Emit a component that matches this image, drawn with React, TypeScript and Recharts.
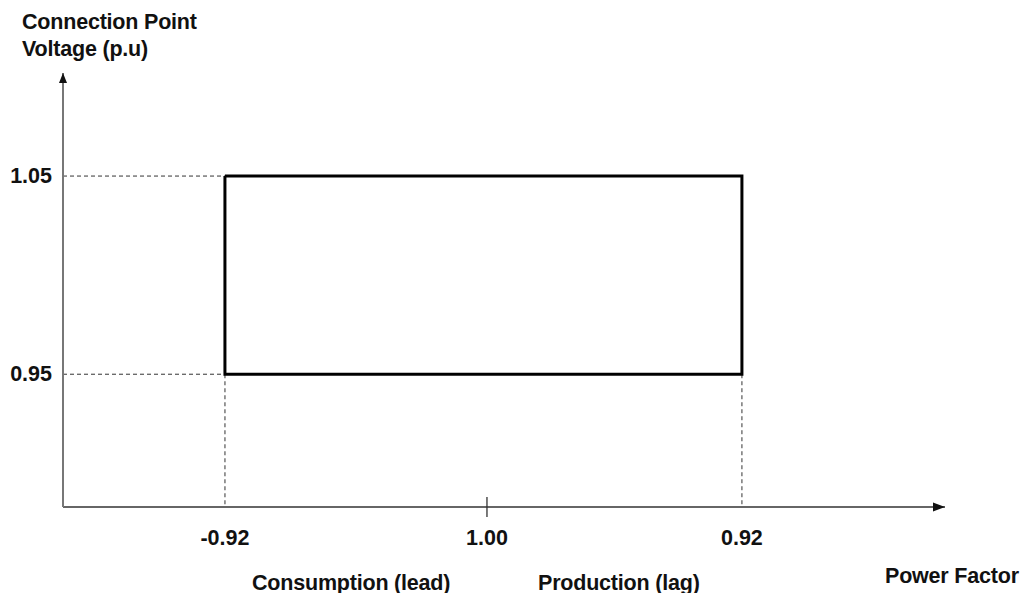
import React from 'react';
import { LineChart, Line, XAxis, YAxis, ReferenceLine, ReferenceDot } from 'recharts';

// horizontal axis is positional: leading side, unity, lagging side
const pfPositions = [-1, 0, 0.973];
const pfLabels = ['-0.92', '1.00', '0.92'];
const voltageTicks = [0.95, 1.05];

// operating envelope corners (closed outline)
const boxPf = [-1, 0.973, 0.973, -1, -1];
const boxVoltage = [1.05, 1.05, 0.95, 0.95, 1.05];

const xDomain = [-1.618, 1.748];
const yDomain = [0.883, 1.102];

const FONT = '"Liberation Sans", Arial, sans-serif';

const data = boxPf.map((x, i) => ({ pf: x, v: boxVoltage[i] }));

const XTick = (props: any) => {
  const { x, y, payload } = props;
  const idx = pfPositions.indexOf(payload.value);
  return (
    <g>
      {payload.value === 0 && <line x1={x} x2={x} y1={y - 10} y2={y + 10} stroke="#333" strokeWidth={1.3} />}
      <text x={x} y={y + 31} textAnchor="middle" dominantBaseline="central" fontFamily={FONT} fontWeight="bold" fontSize={21.5} fill="#111">
        {pfLabels[idx]}
      </text>
    </g>
  );
};

const YTick = (props: any) => {
  const { x, y, payload } = props;
  return (
    <text x={x - 11} y={y} textAnchor="end" dominantBaseline="central" fontFamily={FONT} fontWeight="bold" fontSize={21.5} fill="#111">
      {payload.value.toFixed(2)}
    </text>
  );
};

const txt: React.CSSProperties = {
  position: 'absolute',
  fontFamily: FONT,
  fontWeight: 'bold',
  fontSize: 21.5,
  color: '#111',
  whiteSpace: 'nowrap',
  lineHeight: '24px',
};

export default function App() {
  const dash = { stroke: '#333', strokeDasharray: '4 3', strokeWidth: 1 };
  return (
    <div style={{ position: 'absolute', left: 0, top: 0, width: 1024, height: 593, background: '#fff' }}>
      <LineChart width={1024} height={593} data={data} margin={{ top: 73, right: 79, left: 0, bottom: 36 }}>
        <XAxis
          dataKey="pf"
          type="number"
          domain={xDomain}
          ticks={pfPositions}
          allowDataOverflow
          tickLine={false}
          tickSize={0}
          tickMargin={0}
          height={50}
          tick={<XTick />}
          axisLine={{ stroke: '#333', strokeWidth: 1.5 }}
        />
        <YAxis
          dataKey="v"
          type="number"
          domain={yDomain}
          ticks={voltageTicks}
          allowDataOverflow
          tickLine={false}
          tickSize={0}
          tickMargin={0}
          width={63}
          tick={<YTick />}
          axisLine={{ stroke: '#777', strokeWidth: 2 }}
        />
        <ReferenceLine segment={[{ x: xDomain[0], y: 1.05 }, { x: -1, y: 1.05 }]} {...dash} />
        <ReferenceLine segment={[{ x: xDomain[0], y: 0.95 }, { x: -1, y: 0.95 }]} {...dash} />
        <ReferenceLine segment={[{ x: -1, y: 0.95 }, { x: -1, y: yDomain[0] }]} {...dash} stroke="#777" strokeWidth={1.5} />
        <ReferenceLine segment={[{ x: 0.973, y: 0.95 }, { x: 0.973, y: yDomain[0] }]} {...dash} />
        <Line
          dataKey="v"
          type="linear"
          stroke="#000"
          strokeWidth={3}
          strokeLinejoin="miter"
          dot={false}
          isAnimationActive={false}
        />
        <ReferenceDot
          x={xDomain[1]}
          y={yDomain[0]}
          ifOverflow="visible"
          shape={(p: any) => <path d={`M${p.cx},${p.cy} l-12,-4.5 l0,9 z`} fill="#111" />}
        />
        <ReferenceDot
          x={xDomain[0]}
          y={yDomain[1]}
          ifOverflow="visible"
          shape={(p: any) => <path d={`M${p.cx},${p.cy} l-4,10 l8,0 z`} fill="#111" />}
        />
      </LineChart>
      <div style={{ ...txt, left: 22, top: 10, letterSpacing: -0.2 }}>Connection Point</div>
      <div style={{ ...txt, left: 22, top: 37, letterSpacing: -0.2 }}>Voltage (p.u)</div>
      <div style={{ ...txt, left: 885, top: 564, letterSpacing: -0.2 }}>Power Factor</div>
      <div style={{ ...txt, left: 252, top: 571, letterSpacing: -0.2 }}>Consumption (lead)</div>
      <div style={{ ...txt, left: 538, top: 571, letterSpacing: -0.2 }}>Production (lag)</div>
    </div>
  );
}
